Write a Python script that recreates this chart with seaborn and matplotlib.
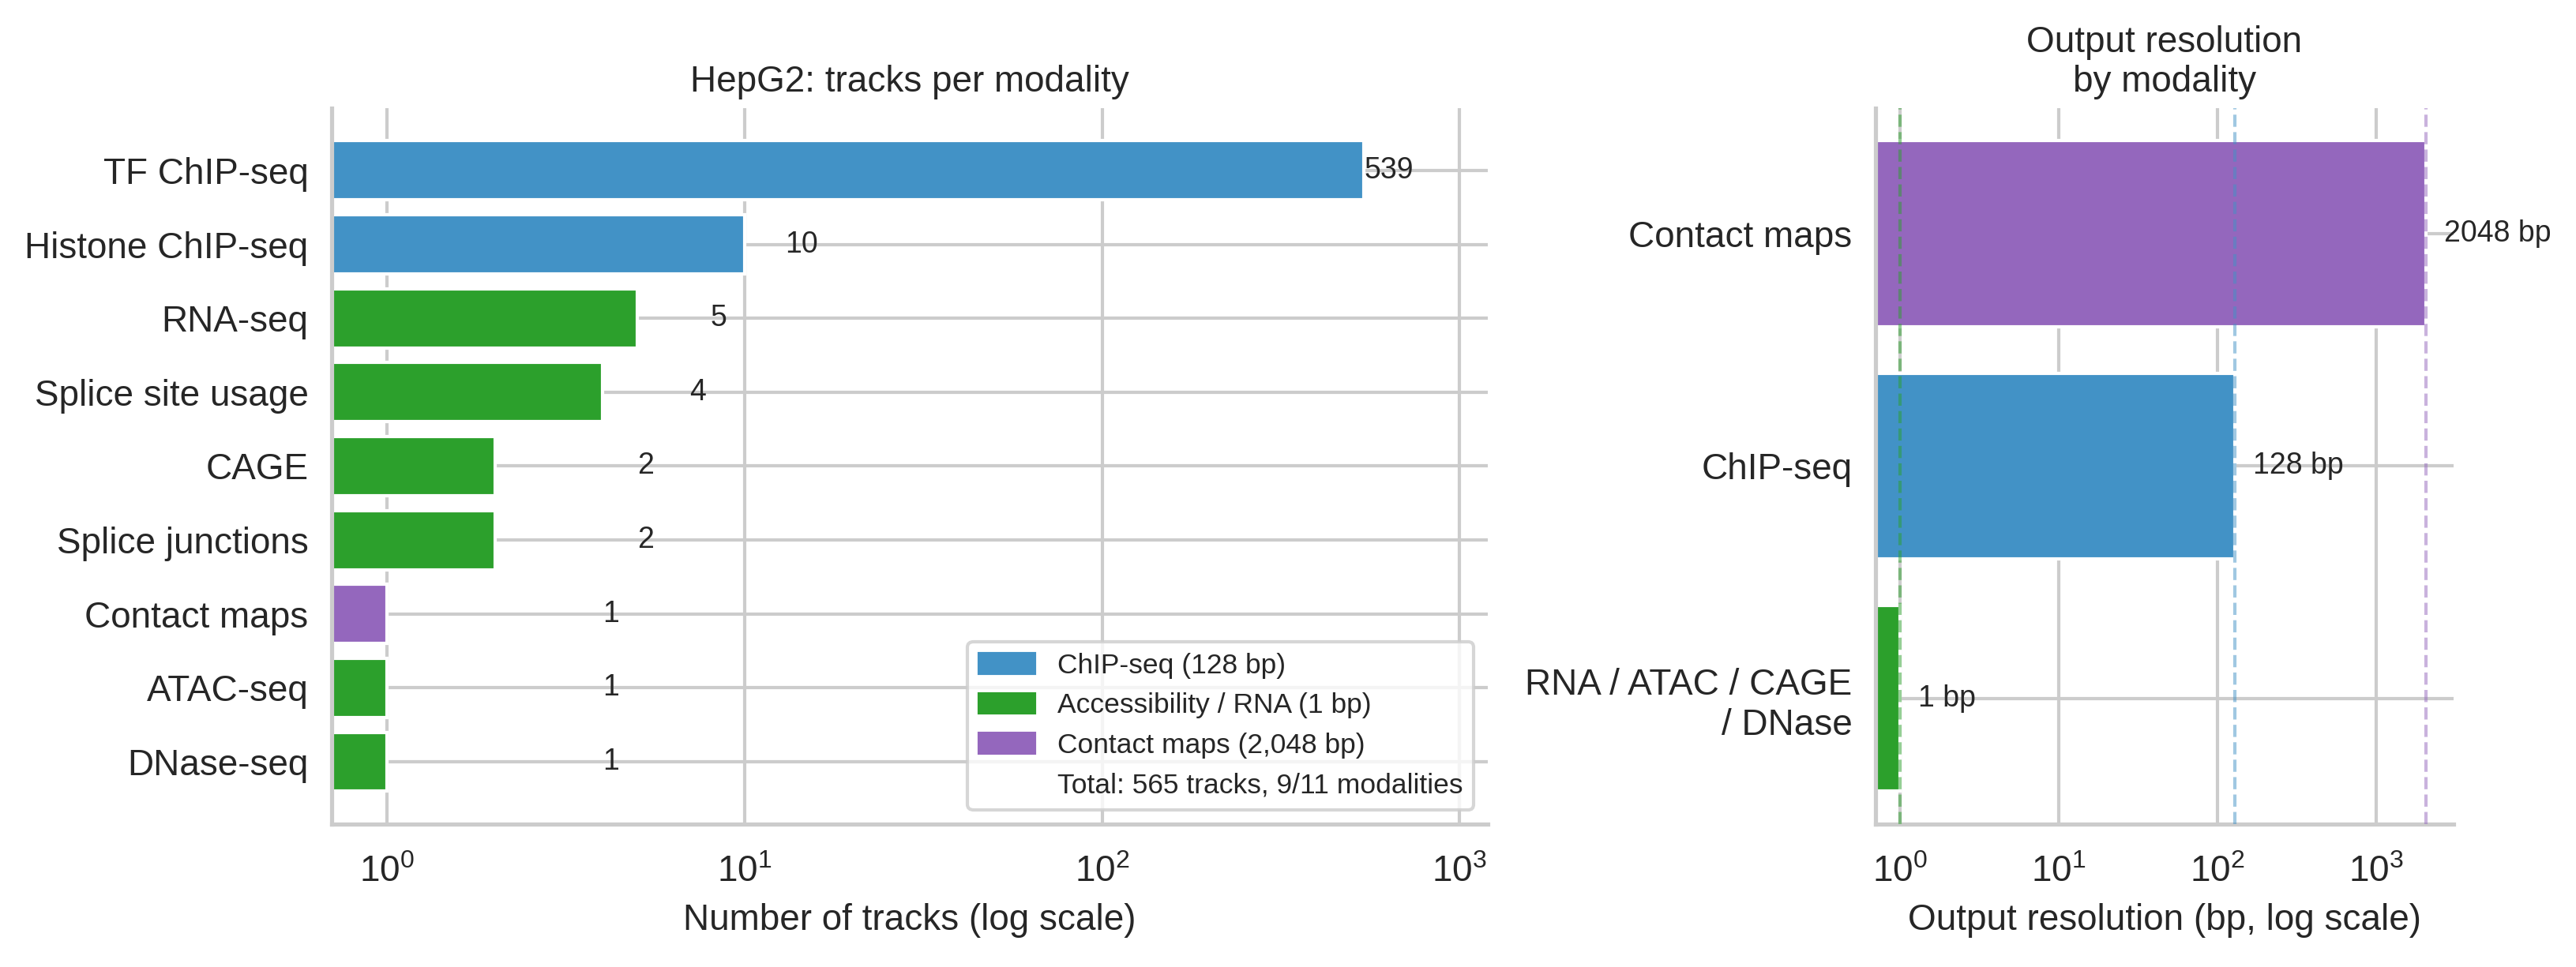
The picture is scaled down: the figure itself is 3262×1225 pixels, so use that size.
import numpy as np
import pandas as pd
import seaborn as sns
import matplotlib.pyplot as plt
from matplotlib.patches import Patch

# tracks per modality (HepG2), top to bottom
modalities = ["TF ChIP-seq", "Histone ChIP-seq", "RNA-seq", "Splice site usage", "CAGE",
              "Splice junctions", "Contact maps", "ATAC-seq", "DNase-seq"]
track_counts = [539, 10, 5, 4, 2, 2, 1, 1, 1]
modality_group = ["chip", "chip", "acc", "acc", "acc", "acc", "contact", "acc", "acc"]

# output resolution per group, top to bottom
res_groups = ["Contact maps", "ChIP-seq", "RNA / ATAC / CAGE\n/ DNase"]
res_bp = [2048, 128, 1]
res_group_key = ["contact", "chip", "acc"]

group_colors = {"chip": "#4292c6", "acc": "#2ca02c", "contact": "#9467bd"}
legend_labels = ["ChIP-seq (128 bp)", "Accessibility / RNA (1 bp)", "Contact maps (2,048 bp)"]
total_label = "Total: 565 tracks, 9/11 modalities"

sns.set_theme(style="whitegrid")
plt.rcParams["font.family"] = ["Liberation Sans", "DejaVu Sans"]
ypad = plt.rcParams["ytick.major.pad"] - 2.4

fig, (ax1, ax2) = plt.subplots(1, 2, figsize=(3262 / 300, 1225 / 300), dpi=300,
                               gridspec_kw={"width_ratios": [2, 1]})
fig.subplots_adjust(left=0.1288, right=0.9525, top=0.888, bottom=0.148, wspace=0.447)

# left panel: track counts
df_tracks = pd.DataFrame({"modality": modalities, "count": track_counts})
sns.barplot(data=df_tracks, x="count", y="modality", hue="modality",
            palette=[group_colors[g] for g in modality_group], legend=False,
            errorbar=None, width=0.8, saturation=1, ax=ax1)
ax1.set_xscale("log")
ax1.set_xlim(0.7, 1200)
ax1.yaxis.grid(True)
ax1.set_autoscaley_on(True)
ax1.autoscale_view(scalex=False)
for i, v in enumerate(track_counts):
    ax1.text(v + 3, i, str(v), va="center", ha="left", fontsize=9)
ax1.set_ylabel("")
ax1.set_xlabel("Number of tracks (log scale)", fontsize=11)
ax1.set_title("HepG2: tracks per modality", fontsize=11, pad=5)
ax1.tick_params(labelsize=11)
ax1.tick_params(axis="y", pad=ypad)

handles = [Patch(color=group_colors[k], label=l) for k, l in zip(["chip", "acc", "contact"], legend_labels)]
handles.append(Patch(color="none", label=total_label))
ax1.legend(handles=handles, loc="lower right", fontsize=8.5)

# right panel: output resolution
df_res = pd.DataFrame({"group": res_groups, "bp": res_bp})
sns.barplot(data=df_res, x="bp", y="group", hue="group",
            palette=[group_colors[g] for g in res_group_key], legend=False,
            errorbar=None, width=0.8, saturation=1, ax=ax2)
ax2.set_xscale("log")
ax2.set_xlim(0.7, 3072)
ax2.yaxis.grid(True)
ax2.set_autoscaley_on(True)
ax2.autoscale_view(scalex=False)
for v, g in zip(res_bp, res_group_key):
    ax2.axvline(v, color=group_colors[g], linestyle="--", linewidth=1, alpha=0.5, zorder=3)
for i, v in enumerate(res_bp):
    ax2.text(v * 1.3, i, f"{v} bp", va="center", ha="left", fontsize=9)
ax2.set_ylabel("")
ax2.set_xlabel("Output resolution (bp, log scale)", fontsize=11)
ax2.set_title("Output resolution\nby modality", fontsize=11, pad=5)
ax2.tick_params(labelsize=11)
ax2.tick_params(axis="y", pad=ypad)

sns.despine(fig=fig)
fig.savefig("out.png", dpi=300)
